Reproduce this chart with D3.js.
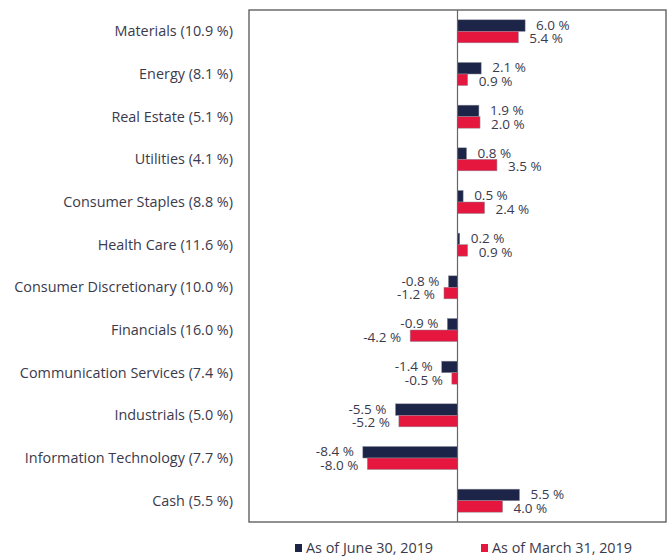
<!DOCTYPE html>
<html>
<head>
<meta charset="utf-8">
<script src="https://cdnjs.cloudflare.com/ajax/libs/d3/7.8.5/d3.min.js"></script>
<style>
  body { margin: 0; background: #fff; }
  text { font-family: "Open Sans", Lato, sans-serif; fill: #3a3a4c; }
</style>
</head>
<body>
<div id="chart"></div>
<script>
// sectors, top to bottom, with their weights
var sectors = ["Materials", "Energy", "Real Estate", "Utilities", "Consumer Staples", "Health Care",
  "Consumer Discretionary", "Financials", "Communication Services", "Industrials",
  "Information Technology", "Cash"];
var weights = [10.9, 8.1, 5.1, 4.1, 8.8, 11.6, 10.0, 16.0, 7.4, 5.0, 7.7, 5.5];

// relative weights (%)
var june30 = [6.0, 2.1, 1.9, 0.8, 0.5, 0.2, -0.8, -0.9, -1.4, -5.5, -8.4, 5.5];
var march31 = [5.4, 0.9, 2.0, 3.5, 2.4, 0.9, -1.2, -4.2, -0.5, -5.2, -8.0, 4.0];

var seriesNames = ["As of June 30, 2019", "As of March 31, 2019"];
var colors = ["#1c2447", "#e5173f"];

var W = 667, H = 559;
var frame = {left: 249, top: 10, right: 666, bottom: 522};

var svg = d3.select("#chart").append("svg")
    .attr("width", W)
    .attr("height", H);

var x = d3.scaleLinear()
    .domain([-18.5, 18.5])
    .range([frame.left, frame.right]);

var y = d3.scaleBand()
    .domain(sectors)
    .range([frame.top, frame.bottom]);

var barH = 11.5;
var inner = d3.scaleBand()
    .domain([0, 1])
    .range([0, barH * 2]);

// hyphen minus and a space before the % sign, like the original
var fmt = function(v) { return d3.format(".1f")(v).replace("\u2212", "-") + " %"; };

// frame
svg.append("rect")
    .attr("x", frame.left)
    .attr("y", frame.top)
    .attr("width", frame.right - frame.left)
    .attr("height", frame.bottom - frame.top)
    .attr("fill", "none")
    .attr("stroke", "#555")
    .attr("stroke-width", 1.3);

// data rows
var rows = sectors.map(function(s, i) {
    return {name: s, weight: weights[i], vals: [june30[i], march31[i]]};
});

var g = svg.selectAll(".row")
    .data(rows)
    .enter().append("g")
    .attr("class", "row")
    .attr("transform", function(d) {
        return "translate(0," + (y(d.name) + (y.bandwidth() - barH * 2) / 2) + ")";
    });

g.selectAll("rect")
    .data(function(d) { return d.vals.map(function(v, k) { return {v: v, k: k}; }); })
    .enter().append("rect")
    .attr("x", function(d) { return x(Math.min(0, d.v)); })
    .attr("y", function(d) { return inner(d.k); })
    .attr("width", function(d) { return Math.abs(x(d.v) - x(0)); })
    .attr("height", inner.bandwidth())
    .attr("fill", function(d) { return colors[d.k]; })
    .attr("stroke", "#8a8a98")
    .attr("stroke-width", 0.5);

g.selectAll(".val")
    .data(function(d) { return d.vals.map(function(v, k) { return {v: v, k: k}; }); })
    .enter().append("text")
    .attr("class", "val")
    .attr("x", function(d) { return d.v >= 0 ? x(d.v) + 11 : x(d.v) - 9; })
    .attr("y", function(d) { return inner(d.k) + inner.bandwidth() / 2 + (d.k ? 1.5 : -0.5); })
    .attr("dy", "0.35em")
    .attr("text-anchor", function(d) { return d.v >= 0 ? "start" : "end"; })
    .style("font-size", "13.5px")
    .text(function(d) { return fmt(d.v); });

// sector labels
svg.selectAll(".cat")
    .data(rows)
    .enter().append("text")
    .attr("class", "cat")
    .attr("x", 233)
    .attr("y", function(d) { return y(d.name) + y.bandwidth() / 2; })
    .attr("dy", "0.35em")
    .attr("text-anchor", "end")
    .style("font-size", "14.4px")
    .text(function(d) { return d.name + " (" + fmt(d.weight) + ")"; });

// zero line
svg.append("line")
    .attr("x1", x(0)).attr("x2", x(0))
    .attr("y1", frame.top).attr("y2", frame.bottom)
    .attr("stroke", "#666")
    .attr("stroke-width", 1.2);

// legend
var legX = [295, 481];
var leg = svg.selectAll(".leg")
    .data(seriesNames)
    .enter().append("g")
    .attr("class", "leg")
    .attr("transform", function(d, i) { return "translate(" + legX[i] + ",548)"; });

leg.append("rect")
    .attr("x", 0).attr("y", -4)
    .attr("width", 7).attr("height", 8)
    .attr("fill", function(d, i) { return colors[i]; });

leg.append("text")
    .attr("x", 11)
    .attr("dy", "0.35em")
    .style("font-size", "14.4px")
    .text(function(d) { return d; });
</script>
</body>
</html>
